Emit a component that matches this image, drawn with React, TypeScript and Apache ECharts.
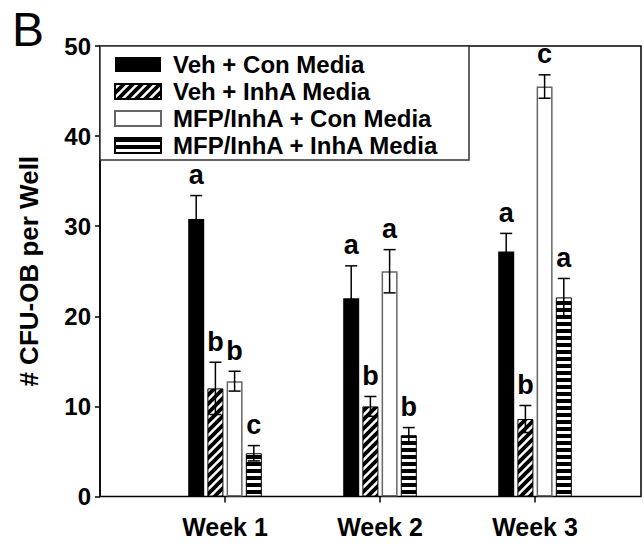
import React, { useEffect, useRef } from "react";
import * as echarts from "echarts";

const weeks = ["Week 1", "Week 2", "Week 3"];
const seriesNames = [
  "Veh + Con Media",
  "Veh + InhA Media",
  "MFP/InhA + Con Media",
  "MFP/InhA + InhA Media",
];
const vehCon = [30.8, 22.0, 27.2];
const vehInhA = [12.0, 10.0, 8.6];
const mfpCon = [12.8, 25.0, 45.5];
const mfpInhA = [4.8, 6.8, 22.1];
const vehConErr = [2.6, 3.6, 2.0];
const vehInhAErr = [2.9, 1.1, 1.5];
const mfpConErr = [1.1, 2.4, 1.3];
const mfpInhAErr = [0.85, 0.85, 2.1];
const vehConLetters = ["a", "a", "a"];
const vehInhALetters = ["b", "b", "b"];
const mfpConLetters = ["b", "a", "c"];
const mfpInhALetters = ["c", "b", "a"];

const values = [vehCon, vehInhA, mfpCon, mfpInhA];
const errors = [vehConErr, vehInhAErr, mfpConErr, mfpInhAErr];
const letters = [vehConLetters, vehInhALetters, mfpConLetters, mfpInhALetters];

const FONT = "Liberation Sans";

function makeHatch(): HTMLCanvasElement {
  const c = document.createElement("canvas");
  const n = 9;
  c.width = n;
  c.height = n;
  const ctx = c.getContext("2d")!;
  ctx.fillStyle = "#fff";
  ctx.fillRect(0, 0, n, n);
  ctx.strokeStyle = "#000";
  ctx.lineWidth = 3.8;
  ctx.lineCap = "square";
  const seg = (x1: number, y1: number, x2: number, y2: number) => {
    ctx.beginPath();
    ctx.moveTo(x1, y1);
    ctx.lineTo(x2, y2);
    ctx.stroke();
  };
  seg(-1, n + 1, n + 1, -1);
  seg(-2, 2, 2, -2);
  seg(n - 2, n + 2, n + 2, n - 2);
  return c;
}

function makeStripes(): HTMLCanvasElement {
  const c = document.createElement("canvas");
  c.width = 4;
  c.height = 7;
  const ctx = c.getContext("2d")!;
  ctx.fillStyle = "#fff";
  ctx.fillRect(0, 0, 4, 7);
  ctx.fillStyle = "#000";
  ctx.fillRect(0, 0, 4, 4);
  return c;
}

export default function App() {
  const ref = useRef<HTMLDivElement>(null);
  useEffect(() => {
    if (!ref.current) return;
    const chart = echarts.init(ref.current, undefined, { renderer: "svg" });
    const hatch = makeHatch();
    const stripes = makeStripes();
    const barW = 16;
    const gapPct = 0.2;
    const pitch = barW * (1 + gapPct);

    const styles: any[] = [
      { color: "#000" },
      {
        color: { image: hatch, repeat: "repeat", imageWidth: hatch.width, imageHeight: hatch.height },
        borderColor: "#000",
        borderWidth: 1,
      },
      { color: "#fff", borderColor: "#666", borderWidth: 1.5 },
      {
        color: { image: stripes, repeat: "repeat", imageWidth: stripes.width, imageHeight: stripes.height },
        borderColor: "#000",
        borderWidth: 1,
      },
    ];

    const barSeries = seriesNames.map((name, i) => ({
      type: "bar",
      name,
      xAxisIndex: 1,
      yAxisIndex: 1,
      barWidth: barW,
      barGap: gapPct * 100 + "%",
      data: values[i],
      itemStyle: styles[i],
      z: 2,
    }));

    const errData: number[][] = [];
    for (let s = 0; s < 4; s++) {
      for (let c = 0; c < weeks.length; c++) {
        errData.push([c, s, values[s][c], errors[s][c]]);
      }
    }

    const option: any = {
      animation: false,
      graphic: [
        {
          type: "text",
          left: 12,
          top: 5,
          style: {
            text: "B",
            fontSize: 48,
            fontFamily: FONT,
            fill: "#000",
          },
        },
      ],
      grid: [
        { left: 100, top: 46, width: 541, height: 450.5, show: true, borderColor: "#000", borderWidth: 1.5, backgroundColor: "transparent" },
        { left: 147.5, top: 46, width: 465, height: 450.5 },
      ],
      legend: {
        data: seriesNames,
        orient: "vertical",
        left: 100,
        top: 46,
        icon: "rect",
        itemWidth: 46,
        itemHeight: 15,
        itemGap: 0,
        padding: [5, 30, 1, 14],
        borderColor: "#333",
        borderWidth: 1.5,
        backgroundColor: "#fff",
        textStyle: {
          fontSize: 24,
          fontWeight: "bold",
          fontFamily: FONT,
          color: "#000",
          lineHeight: 27,
          padding: [0, 0, 0, 7],
        },
      },
      xAxis: [
        { gridIndex: 0, type: "value", show: false, min: 0, max: 1 },
        {
          gridIndex: 1,
          type: "category",
          data: weeks,
          axisLine: { show: false },
          axisTick: { show: true, alignWithLabel: true, length: 6, lineStyle: { color: "#000", width: 1.5 } },
          axisLabel: { fontSize: 25, fontWeight: "bold", fontFamily: FONT, color: "#000", margin: 18 },
        },
      ],
      yAxis: [
        {
          gridIndex: 0,
          type: "value",
          min: 0,
          max: 50,
          interval: 10,
          name: "# CFU-OB per Well",
          nameLocation: "middle",
          nameGap: 58,
          nameTextStyle: { fontSize: 26, fontWeight: "bold", fontFamily: FONT, color: "#000" },
          axisLine: { show: true, lineStyle: { color: "#000", width: 1.5 } },
          axisTick: { show: true, length: 5, lineStyle: { color: "#000", width: 1.5 } },
          axisLabel: { fontSize: 24, fontWeight: "bold", fontFamily: FONT, color: "#000", margin: 9 },
          splitLine: { show: false },
        },
        { gridIndex: 1, type: "value", min: 0, max: 50, show: false },
      ],
      series: [
        ...barSeries,
        {
          type: "custom",
          name: "errors",
          xAxisIndex: 1,
          yAxisIndex: 1,
          z: 5,
          data: errData,
          renderItem: (params: any, api: any) => {
            const cat = api.value(0);
            const s = api.value(1);
            const v = api.value(2);
            const e = api.value(3);
            const x = api.coord([cat, 0])[0] + (s - 1.5) * pitch;
            const yTop = api.coord([cat, v + e])[1];
            const yBot = api.coord([cat, v - e])[1];
            const ls = { stroke: "#000", lineWidth: 1.5 };
            return {
              type: "group",
              children: [
                { type: "line", shape: { x1: x, y1: yTop, x2: x, y2: yBot }, style: ls },
                { type: "line", shape: { x1: x - 6, y1: yTop, x2: x + 6, y2: yTop }, style: ls },
                { type: "line", shape: { x1: x - 6, y1: yBot, x2: x + 6, y2: yBot }, style: ls },
                {
                  type: "text",
                  style: {
                    text: letters[s][cat],
                    x: x,
                    y: yTop - 7,
                    align: "center",
                    verticalAlign: "bottom",
                    fontSize: 27,
                    fontWeight: "bold",
                    fontFamily: FONT,
                    fill: "#000",
                  },
                },
              ],
            };
          },
        },
      ],
    };
    chart.setOption(option);
    return () => chart.dispose();
  }, []);
  return (
    <div
      ref={ref}
      style={{ position: "fixed", left: 0, top: 0, width: 644, height: 546, background: "#fff" }}
    />
  );
}
